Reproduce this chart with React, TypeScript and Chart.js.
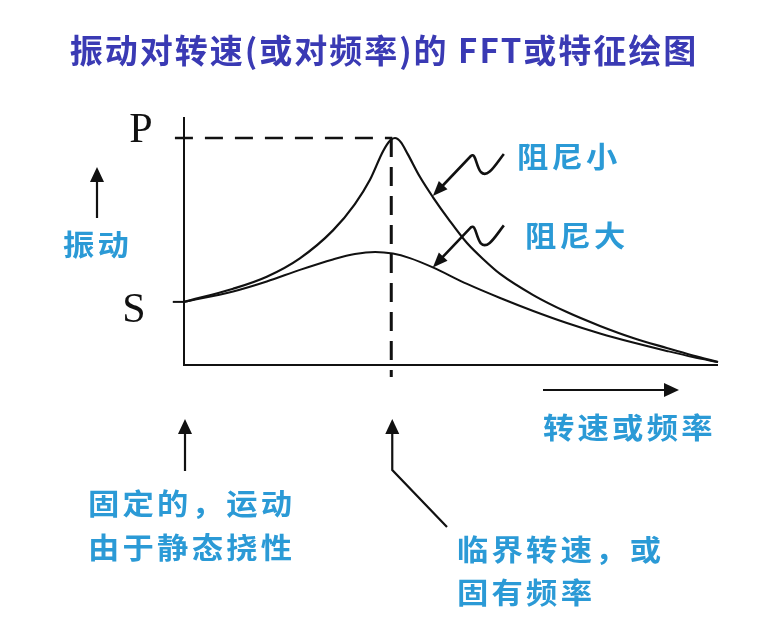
import React, { useEffect, useRef } from "react";
import { Chart, registerables } from "chart.js";

Chart.register(...registerables);

// Rotational speed / frequency (0..100, relative) for each curve
const lowDampingSpeed = [0, 9.2, 15.5, 21.7, 27.9, 32.0, 34.8, 37.3, 38.6, 39.5, 40.6, 41.9, 44.2, 46.6, 49.8, 53.0, 56.4, 59.2, 65.4, 71.7, 77.9, 84.1, 90.4, 95.3, 100];
// Vibration amplitude (0..100, P = 100) for low damping
const lowDampingVib = [27.8, 33.6, 38.9, 47.0, 59.3, 70.9, 81.5, 94.3, 98.9, 100, 98.2, 92.9, 82.8, 74.0, 63.4, 53.7, 45.8, 40.1, 30.8, 23.3, 17.2, 11.9, 7.5, 4.2, 1.3];
const highDampingSpeed = [0, 9.2, 15.5, 21.7, 27.9, 32.0, 35.8, 39.1, 42.3, 46.6, 53.0, 59.2, 65.4, 71.7, 77.9, 84.1, 90.4, 95.3, 100];
// Vibration amplitude for high damping
const highDampingVib = [27.8, 32.4, 36.8, 41.9, 46.5, 48.9, 49.8, 49.1, 47.1, 43.0, 35.7, 29.5, 23.8, 18.5, 13.9, 9.9, 6.2, 3.5, 1.3];

const seriesLabels = ["阻尼小", "阻尼大"];
const levelLabels = ["P", "S"];
const P_LEVEL = 100;
const S_LEVEL = 27.8;
const CRITICAL_SPEED = 39.0;
const ARROW_SPEED = 46.6;

const TITLE = "振动对转速(或对频率)的 FFT或特征绘图";
const Y_LABEL = "振动";
const X_LABEL = "转速或频率";
const NOTE_LEFT = ["固定的，运动", "由于静态挠性"];
const NOTE_PEAK = ["临界转速，或", "固有频率"];

const BLUE = "#2b9ad6";
const TITLE_BLUE = "#3a3ab4";
const INK = "#111111";
const CJK = '"Noto Sans CJK SC", "Noto Sans", sans-serif';

function arrowHead(ctx: CanvasRenderingContext2D, fx: number, fy: number, tx: number, ty: number, len = 15, wid = 14) {
  const a = Math.atan2(ty - fy, tx - fx);
  const bx = tx - len * Math.cos(a);
  const by = ty - len * Math.sin(a);
  const nx = -Math.sin(a) * wid / 2;
  const ny = Math.cos(a) * wid / 2;
  ctx.beginPath();
  ctx.moveTo(tx, ty);
  ctx.lineTo(bx + nx, by + ny);
  ctx.lineTo(bx - nx, by - ny);
  ctx.closePath();
  ctx.fill();
}

function arrowLine(ctx: CanvasRenderingContext2D, x1: number, y1: number, x2: number, y2: number) {
  const a = Math.atan2(y2 - y1, x2 - x1);
  ctx.beginPath();
  ctx.moveTo(x1, y1);
  ctx.lineTo(x2 - 10 * Math.cos(a), y2 - 10 * Math.sin(a));
  ctx.stroke();
  arrowHead(ctx, x1, y1, x2, y2);
}

function squiggle(ctx: CanvasRenderingContext2D, tx: number, ty: number) {
  const sx = tx + 71, sy = ty - 42;
  const cx = tx + 38, cy = ty - 40; // crest
  ctx.beginPath();
  ctx.moveTo(sx, sy);
  ctx.bezierCurveTo(sx - 8, sy + 10, sx - 16, sy + 25, sx - 23, sy + 18);
  ctx.bezierCurveTo(sx - 28, sy + 12, sx - 28, sy - 2, cx, cy);
  const a = Math.atan2(ty - cy, tx - cx);
  ctx.lineTo(tx - 10 * Math.cos(a), ty - 10 * Math.sin(a));
  ctx.stroke();
  arrowHead(ctx, cx, cy, tx, ty, 15, 12);
}

function interp(xv: number, xsArr: number[], ysArr: number[]) {
  for (let i = 1; i < xsArr.length; i++) {
    if (xv <= xsArr[i]) {
      const t = (xv - xsArr[i - 1]) / (xsArr[i] - xsArr[i - 1]);
      return ysArr[i - 1] + t * (ysArr[i] - ysArr[i - 1]);
    }
  }
  return ysArr[ysArr.length - 1];
}

function wideText(ctx: CanvasRenderingContext2D, text: string, x: number, y: number, sx: number) {
  ctx.save();
  ctx.translate(x, y);
  ctx.scale(sx, 1);
  ctx.fillText(text, 0, 0);
  ctx.restore();
}

const decor = {
  id: "decor",
  beforeDraw(chart: any) {
    const ctx = chart.ctx as CanvasRenderingContext2D;
    ctx.save();
    ctx.fillStyle = "#ffffff";
    ctx.fillRect(0, 0, chart.width, chart.height);
    ctx.restore();
  },
  beforeDatasetsDraw(chart: any) {
    const ctx = chart.ctx as CanvasRenderingContext2D;
    const xs = chart.scales.x, ys = chart.scales.y;
    const px = (v: number) => xs.getPixelForValue(v);
    const py = (v: number) => ys.getPixelForValue(v);
    ctx.save();
    ctx.strokeStyle = INK;
    ctx.lineWidth = 2;
    // axes
    ctx.beginPath();
    ctx.moveTo(px(0), py(109.3));
    ctx.lineTo(px(0), py(0));
    ctx.lineTo(px(100), py(0));
    ctx.stroke();
    // S tick
    ctx.beginPath();
    ctx.moveTo(px(-2.1), py(S_LEVEL));
    ctx.lineTo(px(0), py(S_LEVEL));
    ctx.stroke();
    // P dashed
    ctx.setLineDash([18, 12]);
    ctx.lineWidth = 2.5;
    ctx.beginPath();
    ctx.moveTo(px(-1.7), py(P_LEVEL));
    ctx.lineTo(px(CRITICAL_SPEED), py(P_LEVEL));
    ctx.stroke();
    // critical speed dashed
    ctx.setLineDash([19, 10]);
    ctx.lineWidth = 3;
    ctx.beginPath();
    ctx.moveTo(px(CRITICAL_SPEED) - 1, py(P_LEVEL));
    ctx.lineTo(px(CRITICAL_SPEED) - 1, py(-5.3));
    ctx.stroke();
    ctx.restore();
  },
  afterDatasetsDraw(chart: any) {
    const ctx = chart.ctx as CanvasRenderingContext2D;
    const xs = chart.scales.x, ys = chart.scales.y;
    const px = (v: number) => xs.getPixelForValue(v);
    const py = (v: number) => ys.getPixelForValue(v);
    ctx.save();
    // title
    ctx.fillStyle = TITLE_BLUE;
    ctx.font = `bold 33px ${CJK}`;
    ctx.textAlign = "center";
    ctx.textBaseline = "middle";
    (ctx as any).letterSpacing = "2px";
    ctx.fillText(TITLE, 384, 50);

    // P / S labels
    (ctx as any).letterSpacing = "0px";
    ctx.fillStyle = INK;
    ctx.font = `42px "Liberation Serif", "DejaVu Serif", serif`;
    ctx.textBaseline = "alphabetic";
    ctx.fillText(levelLabels[0], px(0) - 43, py(P_LEVEL) + 4);
    ctx.fillText(levelLabels[1], px(0) - 50, py(S_LEVEL) + 20);

    // arrows
    ctx.strokeStyle = INK;
    ctx.fillStyle = INK;
    ctx.lineWidth = 2.2;
    arrowLine(ctx, 97, 218, 97, 167); // y label arrow
    arrowLine(ctx, 543, 390, 679, 390); // x label arrow
    arrowLine(ctx, px(0) + 1, 471, px(0) + 1, 419); // static arrow
    // critical arrow with bend
    const cxp = px(CRITICAL_SPEED);
    ctx.beginPath();
    ctx.moveTo(447, 527);
    ctx.lineTo(cxp, 470);
    ctx.lineTo(cxp, 430);
    ctx.stroke();
    arrowHead(ctx, cxp, 470, cxp, 419);

    // squiggle arrows pointing at the curves
    ctx.lineWidth = 2.6;
    squiggle(ctx, px(ARROW_SPEED), py(interp(ARROW_SPEED, lowDampingSpeed, lowDampingVib)) - 1);
    squiggle(ctx, px(ARROW_SPEED), py(interp(ARROW_SPEED, highDampingSpeed, highDampingVib)));

    // blue labels
    ctx.fillStyle = BLUE;
    ctx.font = `bold 29px ${CJK}`;
    ctx.textAlign = "left";
    ctx.textBaseline = "middle";
    (ctx as any).letterSpacing = "3px";
    const sx = 1.08;
    wideText(ctx, seriesLabels[0], 517, 157, sx);
    wideText(ctx, seriesLabels[1], 525, 236, sx);
    wideText(ctx, Y_LABEL, 63, 245, sx);
    wideText(ctx, X_LABEL, 543, 428, sx);
    wideText(ctx, NOTE_LEFT[0], 88, 504, sx);
    wideText(ctx, NOTE_LEFT[1], 88, 548, sx);
    wideText(ctx, NOTE_PEAK[0], 457, 550, sx);
    wideText(ctx, NOTE_PEAK[1], 457, 593, sx);
    ctx.restore();
  },
};

export default function App() {
  const ref = useRef<HTMLCanvasElement | null>(null);
  useEffect(() => {
    if (!ref.current) return;
    const chart = new Chart(ref.current, {
      type: "line",
      data: {
        datasets: [
          {
            label: seriesLabels[0],
            data: lowDampingSpeed.map((x, i) => ({ x, y: lowDampingVib[i] })),
            borderColor: INK,
            borderWidth: 2.2,
            pointRadius: 0,
            cubicInterpolationMode: "monotone",
            clip: false,
          } as any,
          {
            label: seriesLabels[1],
            data: highDampingSpeed.map((x, i) => ({ x, y: highDampingVib[i] })),
            borderColor: INK,
            borderWidth: 2,
            pointRadius: 0,
            cubicInterpolationMode: "monotone",
            clip: false,
          } as any,
        ],
      },
      options: {
        responsive: false,
        animation: false,
        devicePixelRatio: 1,
        events: [],
        layout: { padding: { left: 184, right: 52, top: 138, bottom: 267 } },
        scales: {
          x: { type: "linear", min: 0, max: 100, display: false },
          y: { type: "linear", min: 0, max: 100, display: false },
        },
        plugins: { legend: { display: false }, tooltip: { enabled: false } },
      },
      plugins: [decor],
    });
    return () => chart.destroy();
  }, []);
  return (
    <div style={{ position: "fixed", left: 0, top: 0, width: 770, height: 632, background: "#fff" }}>
      <canvas ref={ref} width={770} height={632} style={{ display: "block" }} />
    </div>
  );
}
